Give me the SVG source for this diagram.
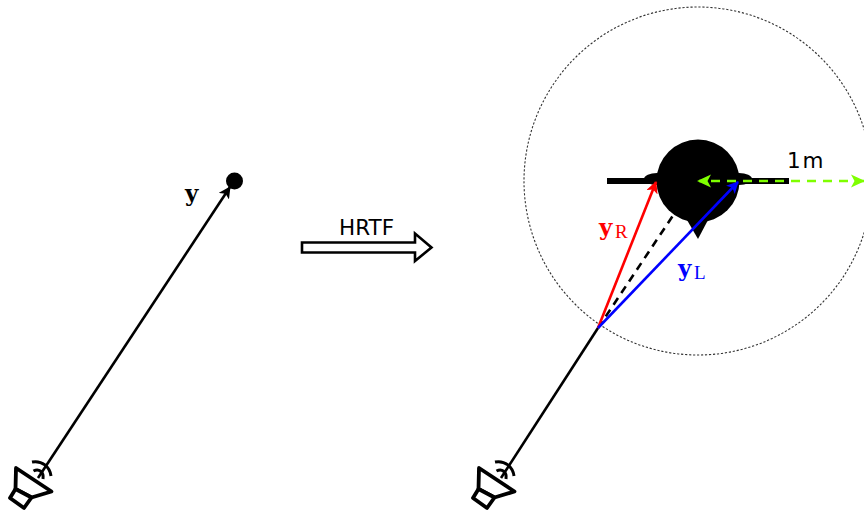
<svg xmlns="http://www.w3.org/2000/svg" width="864" height="511" viewBox="0 0 864 511">
<style>
.l{fill:none;stroke:#000;stroke-width:2.6}
.sp{fill:#fff;stroke:#000;stroke-width:3.8;stroke-linejoin:round}
.arc{fill:none;stroke:#000;stroke-width:3}
.sans{font-family:"DejaVu Sans",sans-serif;font-size:21.5px;fill:#000}
.b{font-family:"DejaVu Serif","Liberation Serif",serif;font-weight:700;font-size:23px}
.s{font-family:"Liberation Serif",serif;font-size:19px}
</style>
<defs>
<g id="speaker">
<path class="sp" d="M16 468L51.500 491.500L31.500 497.500L15.500 489Z"/>
<path class="sp" d="M15.500 489L10 498L24 508L31.500 497.500Z"/>
<path class="arc" d="M32 462C42 460 50 467 51 476"/>
<path class="arc" d="M33.500 471C39 468 44 472 43 479"/>
</g>
<marker id="hk" markerWidth="14" markerHeight="14" refX="11" refY="6" orient="auto" markerUnits="userSpaceOnUse"><path d="M0 0L12 6L0 12L3 6Z" fill="#000"/></marker>
<marker id="hr" markerWidth="14" markerHeight="14" refX="11" refY="6" orient="auto" markerUnits="userSpaceOnUse"><path d="M0 0L12 6L0 12L3 6Z" fill="#f00"/></marker>
<marker id="hb" markerWidth="14" markerHeight="14" refX="11" refY="6" orient="auto" markerUnits="userSpaceOnUse"><path d="M0 0L12 6L0 12L3 6Z" fill="#00f"/></marker>
<marker id="hg" markerWidth="16" markerHeight="14" refX="12" refY="6.500" orient="auto" markerUnits="userSpaceOnUse"><path d="M0 0L14 6.500L0 13L3.500 6.500Z" fill="#7fff00"/></marker>
</defs>
<g id="range"><circle cx="698" cy="181" r="174" fill="none" stroke="#333" stroke-width="1.100" stroke-dasharray="2.200 1.800"/></g>
<g id="head">
<path d="M607 178H789V184H607Z" fill="#000"/>
<ellipse cx="657" cy="179" rx="13" ry="6" fill="#000"/>
<ellipse cx="739" cy="179" rx="13" ry="6" fill="#000"/>
<circle cx="698" cy="181" r="41.500" fill="#000"/>
<path d="M687 220L698 239L708 220Z" fill="#000"/>
</g>
<g id="source"><circle cx="234.500" cy="181" r="8.500" fill="#000"/></g>
<g id="speaker-left"><use href="#speaker"/></g>
<g id="speaker-right"><use href="#speaker" x="463"/></g>
<g id="hrtf-arrow"><path d="M302 242.500H415V233.500L431.500 247.500L415 261V252.500H302Z" fill="#fff" stroke="#000" stroke-width="2.600" stroke-linejoin="miter"/></g>
<g id="connectors">
<path class="l" d="M38 478L230 187" marker-end="url(#hk)"/>
<path class="l" d="M501 478L598 328"/>
<path d="M598 328L674 214" fill="none" stroke="#000" stroke-width="2.600" stroke-dasharray="8 6"/>
<path d="M598 328L656 182" fill="none" stroke="#f00" stroke-width="2.600" marker-end="url(#hr)"/>
<path d="M598 328L738 182" fill="none" stroke="#00f" stroke-width="2.600" marker-end="url(#hb)"/>
<path d="M864 181H699" fill="none" stroke="#7fff00" stroke-width="2.600" stroke-dasharray="9 7" marker-end="url(#hg)"/>
<path d="M851 174.500L865 181L851 187.500L854.500 181Z" fill="#7fff00"/>
</g>
<g id="labels">
<text class="b" x="185" y="201" fill="#000">y</text>
<text class="sans" x="339" y="235">HRTF</text>
<text class="sans" x="787" y="168" word-spacing="-5">1 m</text>
<text class="b" x="599" y="235" fill="#f00">y</text><text class="s" x="615" y="238" fill="#f00">R</text>
<text class="b" x="678" y="276" fill="#00f">y</text><text class="s" x="694" y="279" fill="#00f">L</text>
</g>
</svg>
